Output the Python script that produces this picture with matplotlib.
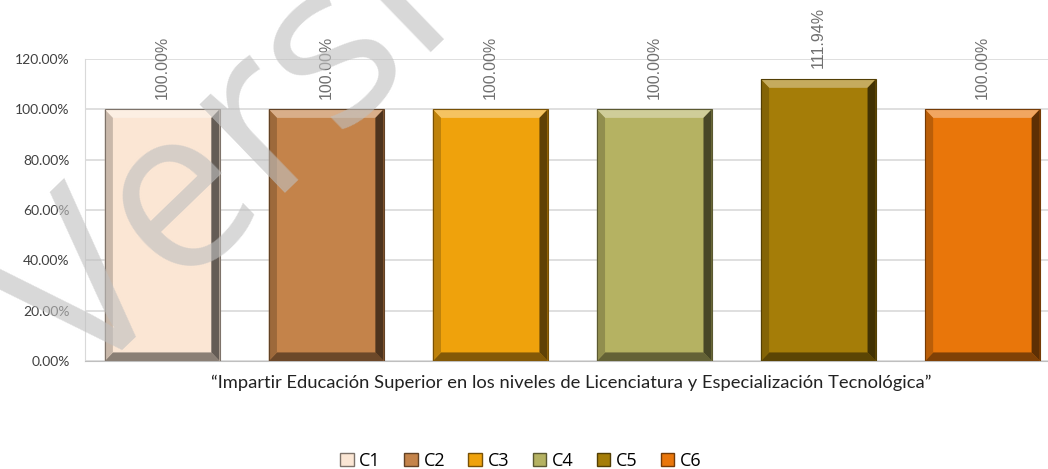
import matplotlib
matplotlib.use("Agg")
import matplotlib.pyplot as plt
from matplotlib.patches import Polygon, Patch
from matplotlib.colors import to_rgb
import numpy as np

# data
series = ["C1", "C2", "C3", "C4", "C5", "C6"]
values = [100.00, 100.00, 100.00, 100.00, 111.94, 100.00]   # percent
colors = ["#FBE6D4", "#C4834A", "#EFA20C", "#B5B262", "#A57D08", "#E9760A"]
category = "\u201cImpartir Educación Superior en los niveles de Licenciatura y Especialización Tecnológica\u201d"
yticks = [0, 20, 40, 60, 80, 100, 120]


def shade(c, f):
    # f>0 mixes with white, f<0 mixes with black
    r = np.array(to_rgb(c))
    if f >= 0:
        return tuple(r + (1 - r) * f)
    return tuple(r * (1 + f))


fig = plt.figure(figsize=(10.48, 4.69), dpi=100)
ax = fig.add_axes([0.0811, 0.2303, 0.9189, 0.6439])

x = np.arange(len(series))
w = 0.70
bars = ax.bar(x, values, width=w, color=colors, zorder=2, linewidth=0)

# bevel look on each bar
dx, dy = 0.05, 3.4
for b, c in zip(bars, colors):
    x0, x1 = b.get_x(), b.get_x() + b.get_width()
    h = b.get_height()
    ax.add_patch(Polygon([(x0, h), (x1, h), (x1 - dx, h - dy), (x0 + dx, h - dy)],
                         closed=True, color=shade(c, 0.35), lw=0, zorder=3))
    ax.add_patch(Polygon([(x0, 0), (x1, 0), (x1 - dx, dy), (x0 + dx, dy)],
                         closed=True, color=shade(c, -0.45), lw=0, zorder=3))
    ax.add_patch(Polygon([(x0, 0), (x0, h), (x0 + dx, h - dy), (x0 + dx, dy)],
                         closed=True, color=shade(c, -0.2), lw=0, zorder=3))
    ax.add_patch(Polygon([(x1, 0), (x1, h), (x1 - dx, h - dy), (x1 - dx, dy)],
                         closed=True, color=shade(c, -0.6), lw=0, zorder=3))
    ax.add_patch(Polygon([(x0, 0), (x0, h), (x1, h), (x1, 0)], closed=True,
                         fill=False, ec=shade(c, -0.5), lw=0.8, zorder=4))
    ax.text(b.get_x() + b.get_width() / 2, h + 4.3, f"{h:.2f}%", rotation=90,
            ha="center", va="bottom", fontsize=11.5, color="#707070",
            family="Liberation Sans", zorder=5)

ax.set_xlim(-0.47, 5.40)
ax.set_ylim(0, 120)
ax.set_yticks(yticks)
ax.set_yticklabels([f"{v:.2f}%" for v in yticks], family="Lato",
                   fontsize=10, color="#404040")
ax.set_xticks([])
ax.tick_params(axis="y", length=0, pad=11)
ax.yaxis.grid(True, color="#d9d9d9", lw=1.2, zorder=0)
ax.set_axisbelow(True)
for s in ["top", "right"]:
    ax.spines[s].set_visible(False)
ax.spines["left"].set_color("#d9d9d9")
ax.spines["bottom"].set_color("#bfbfbf")
ax.set_xlabel(category, family="Lato", fontsize=13.2, color="#222222")
ax.xaxis.set_label_coords(0.505, -0.045)

handles = [Patch(facecolor=c, edgecolor=shade(c, -0.5), label=s) for s, c in zip(series, colors)]
fig.legend(handles=handles, loc="center", bbox_to_anchor=(0.497, 0.017), ncol=6,
           frameon=False, handlelength=0.75, handleheight=0.75,
           handletextpad=0.3, columnspacing=1.3, prop={"family": "Open Sans", "size": 13})

# watermark
fig.text(0.077, 0.168, "Versión", rotation=44, rotation_mode="anchor",
         fontsize=165, color="#c0c0c0", alpha=0.62, ha="left", va="baseline",
         zorder=10, family="Open Sans", fontweight="medium")

fig.savefig("out.png", dpi=100)
